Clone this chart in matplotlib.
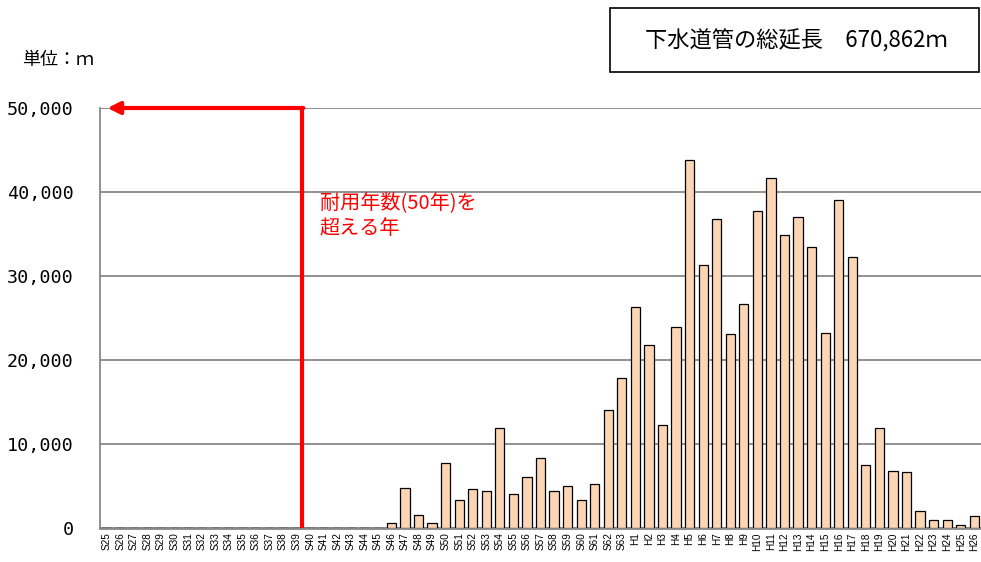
import matplotlib
matplotlib.use('Agg')
import matplotlib.pyplot as plt
from matplotlib.patches import Rectangle

plt.rcParams['font.family'] = ['Noto Sans CJK JP', 'DejaVu Sans']

# 年度ラベル (昭和25年～平成26年)
years = ['S%d' % y for y in range(25, 64)] + ['H%d' % y for y in range(1, 27)]

# 布設延長 (m)
lengths = [0] * 21 + [
    600, 4800, 1600, 600, 7700, 3300, 4600, 4400, 11870, 4000,
    6100, 8300, 4400, 5000, 3300, 5200, 14000, 17900,
    26270, 21830, 12300, 23890, 43770, 31310, 36750, 23130, 26630, 37780,
    41670, 34920, 37020, 33450, 23210, 39050, 32260, 7500, 11900, 6790,
    6670, 1980, 900, 990, 400, 1390,
]

y_ticks = [0, 10000, 20000, 30000, 40000, 50000]
y_tick_labels = ['0', '10,000', '20,000', '30,000', '40,000', '50,000']

total_label = '下水道管の総延長　670,862ｍ'
unit_label = '単位：ｍ'
note_label = '耐用年数(50年)を\n超える年'


def main():
    fig = plt.figure(figsize=(9.81, 5.62), dpi=100)
    ax = fig.add_axes([100 / 981, 34 / 562, 881 / 981, 420 / 562])

    x = list(range(len(years)))
    ax.bar(x, lengths, width=0.68, color='#FCD5B4', edgecolor='black',
           linewidth=0.9, zorder=3)

    ax.set_xlim(-0.5, len(years) - 0.5)
    ax.set_ylim(0, 50000)
    ax.set_yticks(y_ticks)
    ax.set_yticklabels(y_tick_labels, fontsize=13.2,
                       family=['DejaVu Sans Mono'])
    ax.set_xticks(x)
    ax.set_xticklabels(years, rotation=90, fontsize=7.2,
                       family=['Liberation Sans', 'DejaVu Sans'])
    ax.tick_params(axis='both', length=0)
    ax.tick_params(axis='y', pad=19)
    ax.tick_params(axis='x', pad=3)

    ax.grid(axis='y', color='#888888', linewidth=1.3, zorder=0)
    for side in ['top', 'right']:
        ax.spines[side].set_visible(False)
    ax.spines['left'].set_color('#888888')
    ax.spines['left'].set_linewidth(1.3)
    ax.spines['bottom'].set_color('#888888')
    ax.spines['bottom'].set_linewidth(2)

    # 耐用年数を超える範囲の矢印
    x_line = 14.4
    ax.plot([x_line, x_line], [0, 50000], color='#FF0000', linewidth=3,
            zorder=4, solid_capstyle='butt', clip_on=False)
    ax.annotate('', xy=(0.05, 50000), xytext=(x_line + 0.1, 50000),
                arrowprops=dict(arrowstyle='-|>', color='#FF0000', lw=3,
                                mutation_scale=18, shrinkA=0, shrinkB=0),
                zorder=4, annotation_clip=False)
    ax.text(15.7, 40000, note_label, color='#FF0000', fontsize=14.5,
            va='top', ha='left', linespacing=1.3, zorder=5)

    fig.text(22 / 981, 1 - 60 / 562, unit_label, fontsize=13, va='center')

    fig.patches.append(Rectangle((610 / 981, 1 - 72 / 562), 369 / 981, 64 / 562,
                                 transform=fig.transFigure, fill=False,
                                 edgecolor='black', linewidth=1.2))
    fig.text(796 / 981, 1 - 41 / 562, total_label, fontsize=16,
             ha='center', va='center')

    fig.savefig('out.png', dpi=100)


if __name__ == '__main__':
    main()
